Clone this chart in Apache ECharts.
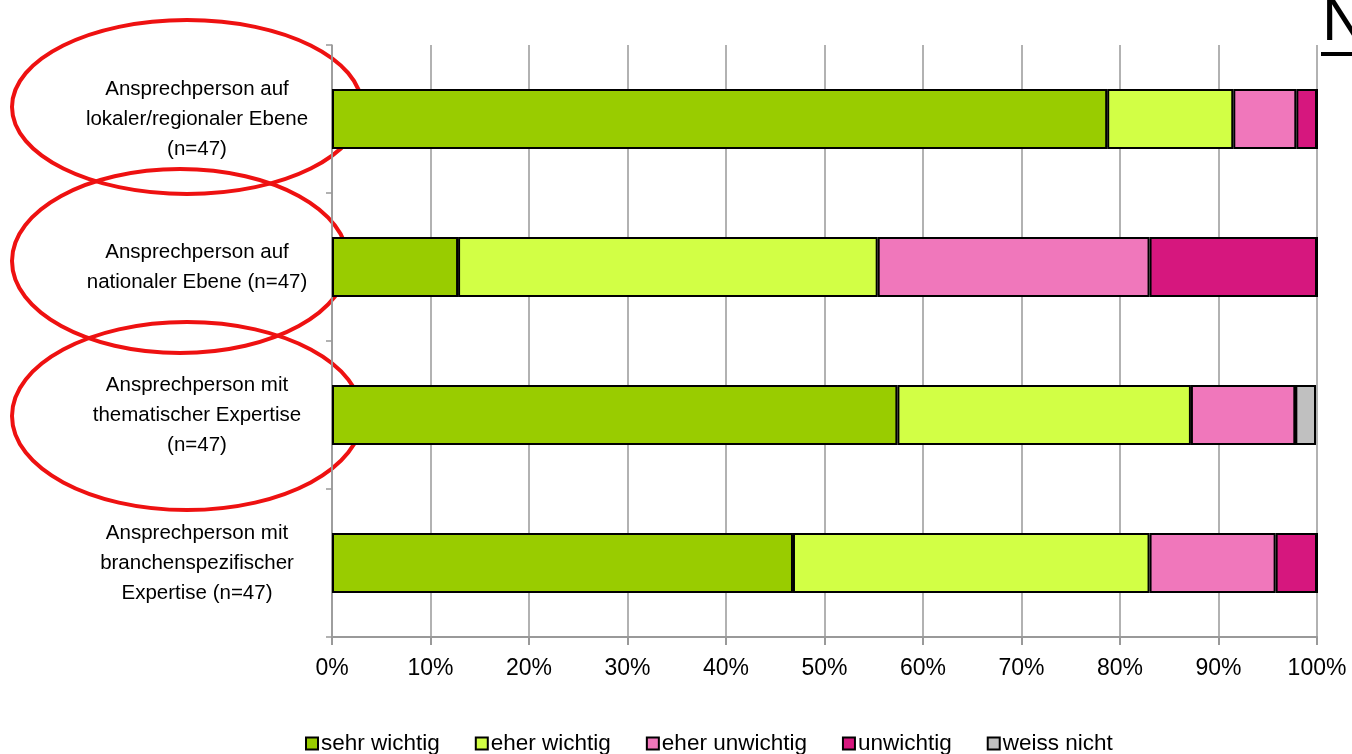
<!DOCTYPE html>
<html><head><meta charset="utf-8">
<script src="https://cdn.jsdelivr.net/npm/echarts@6/dist/echarts.min.js"></script>
<style>html,body{margin:0;padding:0;background:#fff}#c{width:1352px;height:754px}</style>
</head><body><div id="c"></div>
<script>
const categories = [
  'Ansprechperson auf\nlokaler/regionaler Ebene\n(n=47)',
  'Ansprechperson auf\nnationaler Ebene (n=47)',
  'Ansprechperson mit\nthematischer Expertise\n(n=47)',
  'Ansprechperson mit\nbranchenspezifischer\nExpertise (n=47)'
];
const seriesNames = ['sehr wichtig', 'eher wichtig', 'eher unwichtig', 'unwichtig', 'weiss nicht'];
const sehrWichtig = [78.7, 12.8, 57.4, 46.8];
const eherWichtig = [12.8, 42.6, 29.8, 36.2];
const eherUnwichtig = [6.4, 27.6, 10.6, 12.8];
const unwichtig = [2.1, 17.0, 0, 4.2];
const weissNicht = [0, 0, 2.1, 0];
const xTicks = [0,10,20,30,40,50,60,70,80,90,100];
const colors = ['#99CC00', '#D2FF45', '#F077BB', '#D6177E', '#C0C0C0'];
const values = [sehrWichtig, eherWichtig, eherUnwichtig, unwichtig, weissNicht];

const chart = echarts.init(document.getElementById('c'));
const font = 'Liberation Sans, Arial, sans-serif';
chart.setOption({
  animation: false,
  color: colors,
  textStyle: {fontFamily: font},
  grid: {left: 332, right: 35, top: 45, bottom: 117},
  legend: {
    top: 727, left: 300,
    itemWidth: 12, itemHeight: 12, itemGap: 35,
    icon: 'rect',
    textStyle: {fontSize: 22.5, color: '#000', fontFamily: font, padding: [0,0,0,-2]},
    data: seriesNames.map(n => ({name: n, itemStyle: {borderColor: '#000', borderWidth: 2}}))
  },
  xAxis: {
    type: 'value', min: 0, max: 100, interval: 10,
    axisLabel: {formatter: v => xTicks.includes(v) ? v + '%' : '', fontSize: 23, color: '#000', margin: 20},
    axisLine: {show: true, lineStyle: {color: '#999', width: 2}},
    axisTick: {show: true, length: 8, lineStyle: {color: '#999', width: 2}},
    splitLine: {show: true, lineStyle: {color: '#999', width: 1.5}}
  },
  yAxis: {
    type: 'category', inverse: true, data: categories,
    axisLine: {show: true, lineStyle: {color: '#999', width: 1.5}},
    axisTick: {show: true, length: 6, lineStyle: {color: '#999', width: 1.5}},
    axisLabel: {align: 'center', margin: 135, fontSize: 20.5, lineHeight: 30, color: '#000'}
  },
  series: seriesNames.map((n, i) => ({
    name: n, type: 'bar', stack: 'total', barWidth: 60,
    data: values[i],
    itemStyle: {color: colors[i], borderColor: '#000', borderWidth: 2}
  })),
  graphic: [
    {type: 'ellipse', shape: {cx: 187, cy: 107, rx: 175, ry: 87}, style: {fill: 'none', stroke: '#EE1111', lineWidth: 4}},
    {type: 'ellipse', shape: {cx: 180, cy: 261, rx: 168, ry: 92}, style: {fill: 'none', stroke: '#EE1111', lineWidth: 4}},
    {type: 'ellipse', shape: {cx: 187, cy: 416, rx: 175, ry: 94}, style: {fill: 'none', stroke: '#EE1111', lineWidth: 4}},
    {type: 'text', left: 1322, top: -8, style: {text: 'N', fontSize: 62, fill: '#000', fontFamily: font}},
    {type: 'rect', shape: {x: 1321, y: 52, width: 40, height: 4}, style: {fill: '#000'}}
  ]
});
</script></body></html>
